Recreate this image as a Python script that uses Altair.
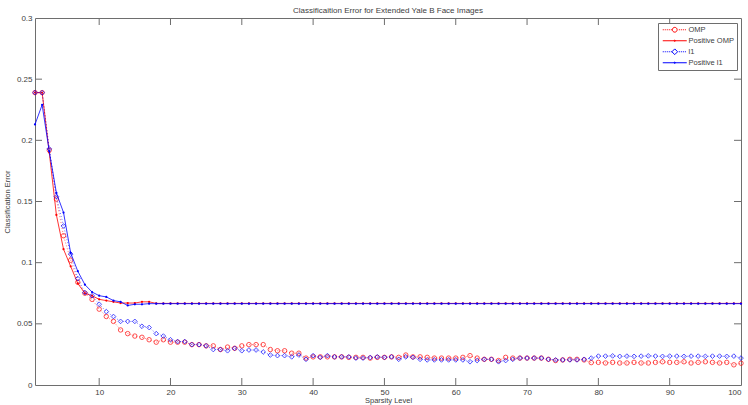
import altair as alt
import pandas as pd

# ---------------- data ----------------
x_vals = list(range(1, 101))
series_names = ["OMP", "Positive OMP", "l1", "Positive l1"]

omp = [
    0.239, 0.239, 0.192, 0.152, 0.122, 0.102, 0.084, 0.075, 0.070, 0.062,
    0.056, 0.052, 0.045, 0.042, 0.040, 0.039, 0.037, 0.035, 0.037, 0.035,
    0.035, 0.035, 0.033, 0.033, 0.032, 0.032, 0.029, 0.031, 0.030, 0.032,
    0.033, 0.033, 0.033, 0.029, 0.028, 0.028, 0.026, 0.026, 0.022, 0.023,
    0.023, 0.023, 0.023, 0.023, 0.0226, 0.0226, 0.0226, 0.022, 0.0226, 0.0226,
    0.023, 0.0226, 0.0245, 0.023, 0.023, 0.0226, 0.022, 0.022, 0.022, 0.022,
    0.0226, 0.024, 0.022, 0.021, 0.021, 0.020, 0.0226, 0.022, 0.022, 0.022,
    0.022, 0.022, 0.021, 0.020, 0.0205, 0.021, 0.021, 0.0205, 0.0183, 0.0185,
    0.018, 0.0185, 0.018, 0.018, 0.0185, 0.018, 0.018, 0.0185, 0.019, 0.0185,
    0.0185, 0.019, 0.018, 0.0185, 0.019, 0.0185, 0.018, 0.0185, 0.0165, 0.0178,
]

pos_omp = [
    0.239, 0.239, 0.190, 0.139, 0.111, 0.097, 0.083, 0.075, 0.073, 0.070,
    0.069, 0.068, 0.067, 0.067, 0.067, 0.068, 0.068, 0.0667, 0.0667, 0.0667,
    0.0667, 0.0667, 0.0667, 0.0667, 0.0667, 0.0667, 0.0667, 0.0667, 0.0667, 0.0667,
    0.0667, 0.0667, 0.0667, 0.0667, 0.0667, 0.0667, 0.0667, 0.0667, 0.0667, 0.0667,
    0.0667, 0.0667, 0.0667, 0.0667, 0.0667, 0.0667, 0.0667, 0.0667, 0.0667, 0.0667,
    0.0667, 0.0667, 0.0667, 0.0667, 0.0667, 0.0667, 0.0667, 0.0667, 0.0667, 0.0667,
    0.0667, 0.0667, 0.0667, 0.0667, 0.0667, 0.0667, 0.0667, 0.0667, 0.0667, 0.0667,
    0.0667, 0.0667, 0.0667, 0.0667, 0.0667, 0.0667, 0.0667, 0.0667, 0.0667, 0.0667,
    0.0667, 0.0667, 0.0667, 0.0667, 0.0667, 0.0667, 0.0667, 0.0667, 0.0667, 0.0667,
    0.0667, 0.0667, 0.0667, 0.0667, 0.0667, 0.0667, 0.0667, 0.0667, 0.0667, 0.0667,
]

l1 = [
    0.239, 0.239, 0.193, 0.154, 0.130, 0.107, 0.087, 0.0755, 0.073, 0.066,
    0.060, 0.056, 0.052, 0.052, 0.052, 0.048, 0.047, 0.042, 0.040, 0.037,
    0.0355, 0.0355, 0.033, 0.033, 0.032, 0.029, 0.029, 0.028, 0.030, 0.028,
    0.0286, 0.0286, 0.027, 0.0245, 0.024, 0.024, 0.023, 0.0245, 0.021, 0.024,
    0.0226, 0.024, 0.023, 0.023, 0.023, 0.022, 0.022, 0.0225, 0.023, 0.0226,
    0.023, 0.021, 0.023, 0.0226, 0.021, 0.0205, 0.0205, 0.0205, 0.0205, 0.0205,
    0.0205, 0.019, 0.020, 0.021, 0.021, 0.019, 0.020, 0.021, 0.022, 0.022,
    0.022, 0.022, 0.021, 0.0205, 0.0205, 0.0205, 0.0205, 0.021, 0.022, 0.0236,
    0.0236, 0.0238, 0.0234, 0.0236, 0.0234, 0.0236, 0.0238, 0.0236, 0.0234, 0.0236,
    0.0236, 0.0234, 0.0236, 0.0236, 0.0234, 0.0236, 0.0236, 0.0234, 0.0236, 0.022,
]

pos_l1 = [
    0.213, 0.229, 0.191, 0.157, 0.141, 0.108, 0.093, 0.082, 0.076, 0.073,
    0.072, 0.069, 0.068, 0.065, 0.066, 0.066, 0.0665, 0.0665, 0.0665, 0.0665,
    0.0665, 0.0665, 0.0665, 0.0665, 0.0665, 0.0665, 0.0665, 0.0665, 0.0665, 0.0665,
    0.0665, 0.0665, 0.0665, 0.0665, 0.0665, 0.0665, 0.0665, 0.0665, 0.0665, 0.0665,
    0.0665, 0.0665, 0.0665, 0.0665, 0.0665, 0.0665, 0.0665, 0.0665, 0.0665, 0.0665,
    0.0665, 0.0665, 0.0665, 0.0665, 0.0665, 0.0665, 0.0665, 0.0665, 0.0665, 0.0665,
    0.0665, 0.0665, 0.0665, 0.0665, 0.0665, 0.0665, 0.0665, 0.0665, 0.0665, 0.0665,
    0.0665, 0.0665, 0.0665, 0.0665, 0.0665, 0.0665, 0.0665, 0.0665, 0.0665, 0.0665,
    0.0665, 0.0665, 0.0665, 0.0665, 0.0665, 0.0665, 0.0665, 0.0665, 0.0665, 0.0665,
    0.0665, 0.0665, 0.0665, 0.0665, 0.0665, 0.0665, 0.0665, 0.0665, 0.0665, 0.0665,
]

x_ticks = [10, 20, 30, 40, 50, 60, 70, 80, 90, 100]
y_ticks = [0, 0.05, 0.1, 0.15, 0.2, 0.25, 0.3]
inner_x_ticks = [10, 20, 30, 40, 50, 60, 70, 80, 90]
inner_y_ticks = [0.05, 0.1, 0.15, 0.2, 0.25]

title_text = "Classificaition Error for Extended Yale B Face Images"
x_title = "Sparsity Level"
y_title = "Classification Error"

# ---------------- style ----------------
RED = "#ff0000"
BLUE = "#0000ff"
AXIS_GRAY = "#6e6e6e"
TEXT = "#404040"
FONT = "Liberation Sans"
W, H = 706, 367
TICK_LEN = 7

rows = []
for name, vals in zip(series_names, [omp, pos_omp, l1, pos_l1]):
    for xv, v in zip(x_vals, vals):
        rows.append({"x": xv, "value": v, "series": name})
df = pd.DataFrame(rows)

x_scale = alt.Scale(domain=[1, 100], nice=False, zero=False)
y_scale = alt.Scale(domain=[0, 0.3], nice=False, zero=False)
x_axis = alt.Axis(values=x_ticks, title=x_title, format="d")
y_axis = alt.Axis(values=y_ticks, title=y_title, format="~g")

x_enc = alt.X("x:Q", scale=x_scale, axis=x_axis)
y_enc = alt.Y("value:Q", scale=y_scale, axis=y_axis)

base = alt.Chart(df)


def sub(name):
    return base.transform_filter(alt.datum.series == name)


# legend symbol paths (line + marker), drawn in the legend only
def dotted(skip):
    segs = []
    x = -4.0
    while x < 4.0:
        if abs(x + 0.17) > skip:
            segs.append(f"M{x:.2f},0L{x + 0.34:.2f},0")
        x += 0.67
    return "".join(segs)


circ = "M-0.8,0A0.8,0.8 0 1,1 0.8,0A0.8,0.8 0 1,1 -0.8,0Z"
diam = "M0,-0.95L0.95,0L0,0.95L-0.95,0Z"
dot = "M-0.22,0A0.22,0.22 0 1,1 0.22,0A0.22,0.22 0 1,1 -0.22,0Z"
solid = "M-4,0L4,0"
legend_paths = [dotted(0.9) + circ, solid + dot, dotted(1.0) + diam, solid + dot]

omp_line = sub("OMP").mark_line(color=RED, strokeWidth=0.7, strokeDash=[1, 2], opacity=0.8).encode(x=x_enc, y=y_enc)
omp_pts = sub("OMP").mark_point(shape="circle", filled=False, color=RED, size=20,
                                strokeWidth=0.8, opacity=0.85).encode(x=x_enc, y=y_enc)
pomp_line = sub("Positive OMP").mark_line(color=RED, strokeWidth=0.8).encode(x=x_enc, y=y_enc)
pomp_pts = sub("Positive OMP").mark_circle(color=RED, size=5, opacity=1).encode(x=x_enc, y=y_enc)
l1_line = sub("l1").mark_line(color=BLUE, strokeWidth=0.7, strokeDash=[1, 2], opacity=0.8).encode(x=x_enc, y=y_enc)
l1_pts = sub("l1").mark_point(shape="diamond", filled=False, color=BLUE, size=22,
                              strokeWidth=0.8, opacity=0.85).encode(x=x_enc, y=y_enc)
pl1_line = sub("Positive l1").mark_line(color=BLUE, strokeWidth=0.8).encode(x=x_enc, y=y_enc)
pl1_pts = sub("Positive l1").mark_circle(color=BLUE, size=5, opacity=1).encode(x=x_enc, y=y_enc)

legend_props = dict(
    orient="none", legendX=623, legendY=5, title=None,
    padding=3, strokeColor=AXIS_GRAY, fillColor="white",
    labelFont=FONT, labelFontSize=7.5, labelColor=TEXT,
    symbolSize=36, symbolStrokeWidth=1, symbolOffset=10, labelOffset=10,
    rowPadding=1,
)
legend_layer = base.transform_filter("datum.x < 0").mark_point(filled=False, opacity=1).encode(
    x=x_enc, y=y_enc,
    shape=alt.Shape("series:N", scale=alt.Scale(domain=series_names, range=legend_paths),
                    legend=alt.Legend(**legend_props)),
    stroke=alt.Stroke("series:N", scale=alt.Scale(domain=series_names, range=[RED, RED, BLUE, BLUE]),
                      legend=alt.Legend(**legend_props)),
)

# inward ticks on all four sides (MATLAB style)
xt = alt.Chart(pd.DataFrame({"x": inner_x_ticks}))
yt = alt.Chart(pd.DataFrame({"value": inner_y_ticks}))
ticks_bottom = xt.mark_rule(color=AXIS_GRAY, strokeWidth=1).encode(x=x_enc, y=alt.value(H), y2=alt.value(H - TICK_LEN))
ticks_top = xt.mark_rule(color=AXIS_GRAY, strokeWidth=1).encode(x=x_enc, y=alt.value(0), y2=alt.value(TICK_LEN))
ticks_left = yt.mark_rule(color=AXIS_GRAY, strokeWidth=1).encode(y=y_enc, x=alt.value(0), x2=alt.value(TICK_LEN))
ticks_right = yt.mark_rule(color=AXIS_GRAY, strokeWidth=1).encode(y=y_enc, x=alt.value(W), x2=alt.value(W - TICK_LEN))

chart = alt.layer(
    omp_line, omp_pts, pomp_line, pomp_pts, l1_line, l1_pts, pl1_line, pl1_pts,
    ticks_bottom, ticks_top, ticks_left, ticks_right, legend_layer,
).properties(
    width=W, height=H,
    title=alt.TitleParams(title_text, font=FONT, fontSize=8, fontWeight="normal",
                          color=TEXT, offset=-1),
    autosize=alt.AutoSizeParams(type="none"),
    padding={"left": 35, "top": 18, "right": 7, "bottom": 20},
).configure(
    background="white",
).configure_view(
    stroke=AXIS_GRAY, strokeWidth=1,
).configure_axis(
    grid=False, ticks=False, domain=False,
    labelFont=FONT, labelFontSize=8, labelColor=TEXT,
    titleFont=FONT, titleFontSize=7.5, titleColor=TEXT, titleFontWeight="normal",
).configure_axisX(
    labelPadding=3, titlePadding=0,
).configure_axisY(
    labelPadding=3, titlePadding=5,
)

chart.save("out.html", embed_options={"renderer": "svg", "actions": False})
